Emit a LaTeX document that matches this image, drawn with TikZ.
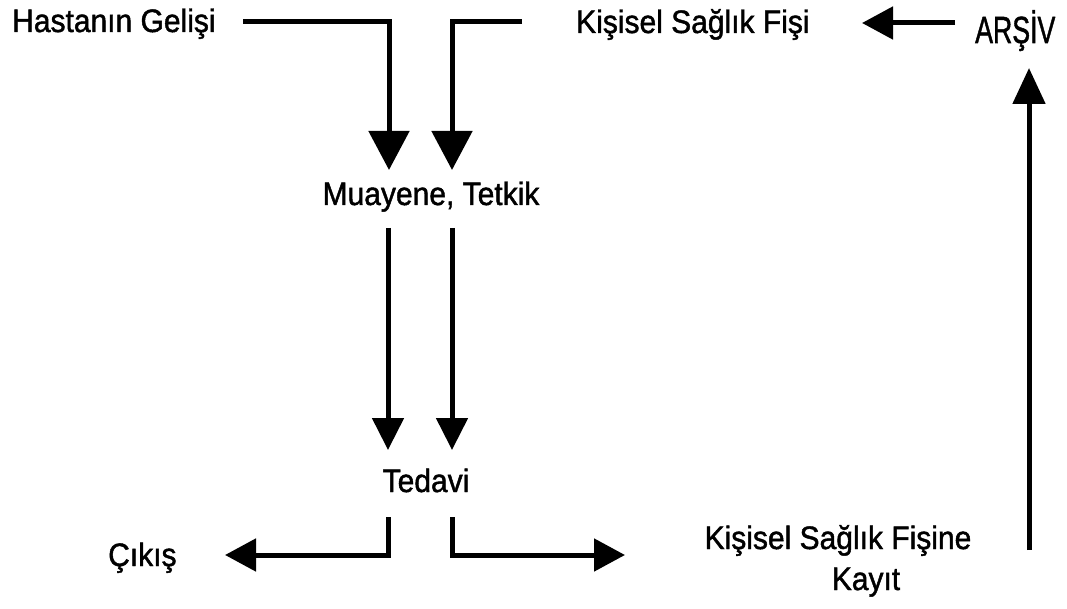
\documentclass[tikz,border=0pt]{standalone}
\usepackage{fontspec}
\setmainfont{Liberation Sans}[FakeBold=1.4]
\usetikzlibrary{arrows.meta}
% slightly tall lettering for the flow labels
\newcommand{\tallbox}[1]{\scalebox{1}[1.08]{#1}}

\begin{document}
\begin{tikzpicture}[x=1pt,y=-1pt,
  lbltext/.style={font=\fontsize{30}{34}\selectfont, inner sep=0pt, anchor=base},
  flow/.style={line width=5pt, line join=miter, line cap=butt},
  headbig/.style={-{Triangle[length=39pt,width=40pt]}},
  headmid/.style={-{Triangle[length=32pt,width=31pt]}},
  headside/.style={-{Triangle[length=31pt,width=32pt]}},
  headup/.style={-{Triangle[length=36pt,width=32pt]}}
]
\useasboundingbox (0,0) rectangle (1067,609);

% labels
\node[lbltext, anchor=base west] (hasta) at (12,32) {\tallbox{Hastanın Gelişi}};
\node[lbltext, anchor=base west] (fis) at (576,33) {\tallbox{Kişisel Sağlık Fişi}};
\node[lbltext, anchor=base west] (arsiv) at (975,43) {\scalebox{0.89}[1.26]{ARŞİV}};
\node[lbltext] (muayene) at (431,205) {\tallbox{Muayene, Tetkik}};
\node[lbltext] (tedavi) at (426,492) {\tallbox{Tedavi}};
\node[lbltext, anchor=base west] (cikis) at (108,566) {\tallbox{Çıkış}};
\node[lbltext] (kayit) at (838,549) {\tallbox{Kişisel Sağlık Fişine}};
\node[lbltext] (kayitb) at (866,590) {\tallbox{Kayıt}};

% connector end points
\coordinate (hastaOut) at (243,22);
\coordinate (muaInA) at (389,170);
\coordinate (fisOut) at (522,22);
\coordinate (muaInB) at (452,170);
\coordinate (arsivOut) at (955,23);
\coordinate (fisIn) at (862,23);
\coordinate (kayitOut) at (1029,550);
\coordinate (arsivIn) at (1029,68);
\coordinate (muaOutA) at (388,228);
\coordinate (tedInA) at (388,450);
\coordinate (muaOutB) at (452,228);
\coordinate (tedInB) at (452,450);
\coordinate (tedOutA) at (388,517);
\coordinate (cikisIn) at (225,555);
\coordinate (tedOutB) at (452,517);
\coordinate (kayitIn) at (625,555);

% connectors
\draw[flow, headbig] (hastaOut) -| (muaInA);
\draw[flow, headbig] (fisOut) -| (muaInB);
\draw[flow, headside] (arsivOut) -- (fisIn);
\draw[flow, headup] (kayitOut) -- (arsivIn);
\draw[flow, headmid] (muaOutA) -- (tedInA);
\draw[flow, headmid] (muaOutB) -- (tedInB);
\draw[flow, headside] (tedOutA) |- (cikisIn);
\draw[flow, headside] (tedOutB) |- (kayitIn);
\end{tikzpicture}
\end{document}
